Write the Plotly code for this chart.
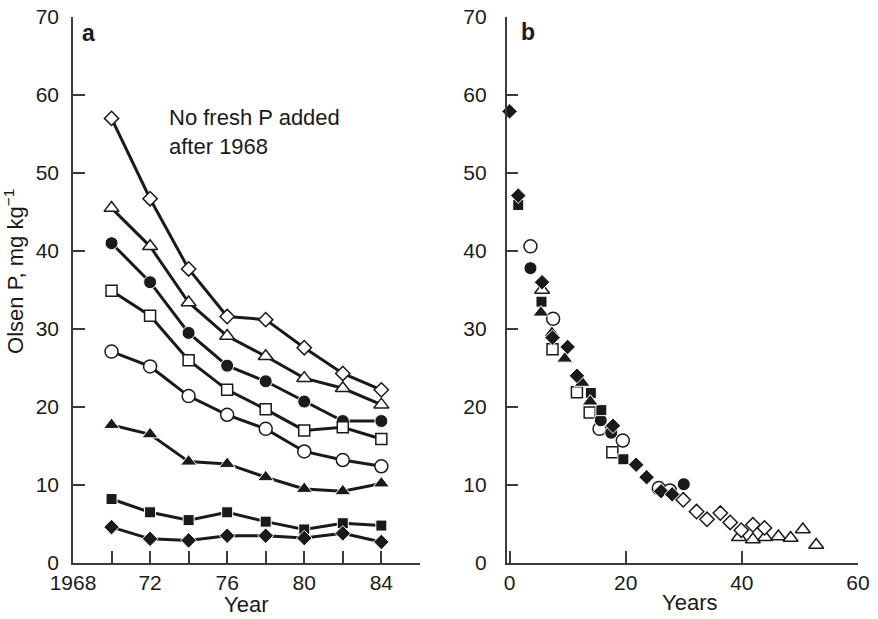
import plotly.graph_objects as go

# ---------------- Panel a data ----------------
years_a = [1970, 1972, 1974, 1976, 1978, 1980, 1982, 1984]
a_open_diamond = [57.0, 46.7, 37.7, 31.6, 31.2, 27.6, 24.3, 22.2]
a_open_triangle = [45.5, 40.6, 33.4, 29.1, 26.5, 23.7, 22.4, 20.3]
a_filled_circle = [41.0, 36.0, 29.5, 25.3, 23.3, 20.7, 18.2, 18.2]
a_open_square = [34.9, 31.7, 26.0, 22.2, 19.7, 17.0, 17.4, 15.9]
a_open_circle = [27.1, 25.2, 21.4, 19.0, 17.2, 14.3, 13.2, 12.4]
a_filled_triangle = [17.7, 16.5, 13.0, 12.7, 11.0, 9.5, 9.2, 10.2]
a_filled_square = [8.2, 6.5, 5.5, 6.5, 5.3, 4.3, 5.1, 4.8]
a_filled_diamond = [4.6, 3.1, 2.9, 3.5, 3.5, 3.2, 3.8, 2.7]

# ---------------- Panel b data ----------------
b_open_triangle_x = [5.6, 39.5, 41.9, 44.0, 46.3, 48.4, 50.5, 52.8]
b_open_triangle_y = [35.0, 3.3, 3.0, 3.3, 3.4, 3.2, 4.3, 2.3]
b_open_diamond_x = [29.9, 32.2, 34.0, 36.3, 38.0, 39.9, 41.9, 43.9]
b_open_diamond_y = [8.1, 6.6, 5.6, 6.4, 5.2, 4.2, 4.9, 4.5]
b_open_circle_x = [3.6, 7.5, 15.5, 19.5, 25.7, 27.6]
b_open_circle_y = [40.6, 31.3, 17.2, 15.7, 9.6, 9.3]
b_open_square_x = [7.4, 11.6, 13.8, 17.7]
b_open_square_y = [27.4, 21.9, 19.3, 14.2]
b_filled_circle_x = [3.6, 15.7, 17.5, 30.0]
b_filled_circle_y = [37.8, 18.3, 16.7, 10.1]
b_filled_square_x = [1.5, 5.5, 14.0, 15.8, 19.6]
b_filled_square_y = [45.9, 33.5, 21.8, 19.6, 13.3]
b_filled_triangle_x = [5.4, 7.3, 9.5, 12.5, 13.9]
b_filled_triangle_y = [32.1, 29.5, 26.2, 23.1, 20.7]
b_filled_diamond_x = [0.0, 1.5, 5.6, 7.4, 10.0, 11.6, 17.8, 21.8, 23.6, 26.1, 28.0]
b_filled_diamond_y = [57.9, 47.1, 36.0, 28.9, 27.7, 24.0, 17.6, 12.6, 11.0, 9.2, 8.8]

y_ticks = [0, 10, 20, 30, 40, 50, 60, 70]
xa_ticks = [1968, 1970, 1972, 1974, 1976, 1978, 1980, 1982, 1984, 1986]
xa_labels = ["1968", "", "72", "", "76", "", "80", "", "84", ""]
xb_ticks = [0, 20, 40, 60]

INK = "#1a1a1a"
AX = "#3a3a3a"
FONT = "Liberation Sans, Arial, sans-serif"
TICK_SIZE = 21
TITLE_SIZE = 22

styles = {
    "open_diamond": dict(symbol="diamond", size=11, color="white", line=dict(color=INK, width=1.5)),
    "open_triangle": dict(symbol="triangle-up", size=13, color="white", line=dict(color=INK, width=1.5)),
    "filled_circle": dict(symbol="circle", size=13, color=INK, line=dict(color="white", width=1)),
    "open_square": dict(symbol="square", size=11, color="white", line=dict(color=INK, width=1.5)),
    "open_circle": dict(symbol="circle", size=13, color="white", line=dict(color=INK, width=1.5)),
    "filled_triangle": dict(symbol="triangle-up", size=14, color=INK, line=dict(color="white", width=1)),
    "filled_square": dict(symbol="square", size=11, color=INK, line=dict(color="white", width=1)),
    "filled_diamond": dict(symbol="diamond", size=12, color=INK, line=dict(color="white", width=1)),
}

fig = go.Figure()

series_a = [
    ("open_diamond", a_open_diamond),
    ("open_triangle", a_open_triangle),
    ("filled_circle", a_filled_circle),
    ("open_square", a_open_square),
    ("open_circle", a_open_circle),
    ("filled_triangle", a_filled_triangle),
    ("filled_square", a_filled_square),
    ("filled_diamond", a_filled_diamond),
]
for name, vals in series_a:
    fig.add_trace(go.Scatter(
        x=years_a, y=vals, mode="lines+markers", name=name,
        line=dict(color=INK, width=3), marker=styles[name],
        xaxis="x", yaxis="y", cliponaxis=False, showlegend=False))

series_b = [
    ("open_triangle", b_open_triangle_x, b_open_triangle_y),
    ("open_diamond", b_open_diamond_x, b_open_diamond_y),
    ("open_circle", b_open_circle_x, b_open_circle_y),
    ("open_square", b_open_square_x, b_open_square_y),
    ("filled_circle", b_filled_circle_x, b_filled_circle_y),
    ("filled_square", b_filled_square_x, b_filled_square_y),
    ("filled_triangle", b_filled_triangle_x, b_filled_triangle_y),
    ("filled_diamond", b_filled_diamond_x, b_filled_diamond_y),
]
for name, xs, ys in series_b:
    fig.add_trace(go.Scatter(
        x=xs, y=ys, mode="markers", name=name, marker=styles[name],
        xaxis="x2", yaxis="y2", cliponaxis=False, showlegend=False))

axis_common = dict(
    showline=True, linecolor=AX, linewidth=1.5, showgrid=False, zeroline=False,
    ticks="inside", ticklen=12, tickwidth=1.5, tickcolor=AX, automargin=False,
    tickfont=dict(family=FONT, size=TICK_SIZE, color=INK),
)

W, H = 878, 619
L, R, T, B = 73, 878 - 858.3, 17, 619 - 563.3
pw = W - L - R
ph = H - T - B

def px_x(p):
    return (p - L) / pw

def px_y(p):
    return (H - B - p) / ph

fig.update_layout(
    width=W, height=H,
    margin=dict(l=L, r=R, t=T, b=B),
    paper_bgcolor="white", plot_bgcolor="white",
    font=dict(family=FONT, size=TICK_SIZE, color=INK),
    xaxis=dict(axis_common, domain=[0, px_x(420)], range=[1968, 1986],
               tickmode="array", tickvals=xa_ticks, ticktext=xa_labels,
               ticklabelstandoff=0, anchor="y"),
    yaxis=dict(axis_common, domain=[0, 1], range=[0, 70], tickmode="array", tickvals=y_ticks,
               ticklabelstandoff=8, anchor="x"),
    xaxis2=dict(axis_common, domain=[px_x(506.7), 1], range=[-0.52, 60],
                tickmode="array", tickvals=xb_ticks, ticklabelstandoff=0, anchor="y2"),
    yaxis2=dict(axis_common, domain=[0, 1], range=[0, 70], tickmode="array", tickvals=y_ticks,
                ticklabelstandoff=14, anchor="x2"),
)

fig.add_annotation(text="Year", xref="paper", yref="paper",
                   x=px_x(246), y=px_y(605), xanchor="center", yanchor="middle",
                   showarrow=False, font=dict(family=FONT, size=TITLE_SIZE, color=INK))
fig.add_annotation(text="Years", xref="paper", yref="paper",
                   x=px_x(690), y=px_y(603), xanchor="center", yanchor="middle",
                   showarrow=False, font=dict(family=FONT, size=TITLE_SIZE, color=INK))
fig.add_annotation(text="Olsen P, mg kg<sup>−1</sup>", xref="paper", yref="paper",
                   x=px_x(14), y=px_y(272), xanchor="center", yanchor="middle",
                   textangle=-90, showarrow=False,
                   font=dict(family=FONT, size=TITLE_SIZE, color=INK))
fig.add_annotation(text="<b>a</b>", xref="paper", yref="paper",
                   x=px_x(89), y=px_y(33), xanchor="center", yanchor="middle",
                   showarrow=False, font=dict(family=FONT, size=23, color=INK))
fig.add_annotation(text="<b>b</b>", xref="paper", yref="paper",
                   x=px_x(528), y=px_y(32), xanchor="center", yanchor="middle",
                   showarrow=False, font=dict(family=FONT, size=23, color=INK))
fig.add_annotation(text="No fresh P added<br>after 1968", xref="x", yref="y",
                   x=1972.9, y=55.2, xanchor="left", yanchor="middle", align="left",
                   showarrow=False, font=dict(family=FONT, size=TITLE_SIZE, color=INK))

fig.write_html("out.html")
